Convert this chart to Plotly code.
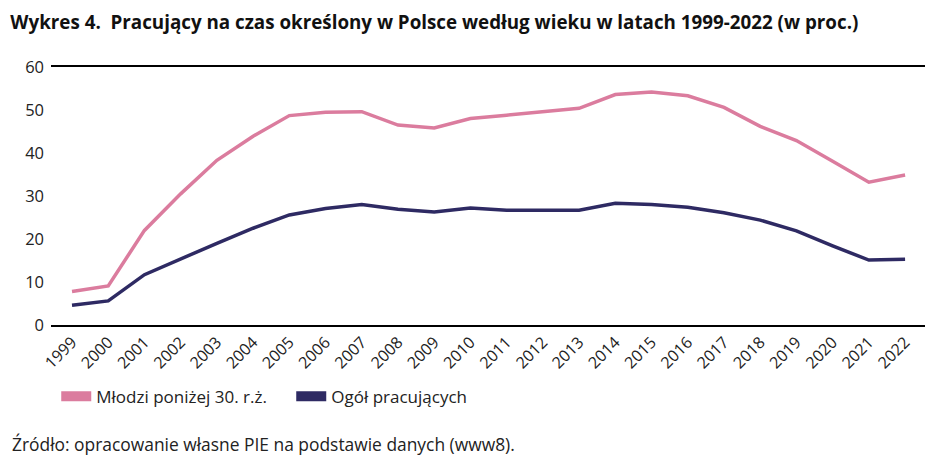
import plotly.graph_objects as go

years = list(range(1999, 2023))
mlodzi = [7.8, 9.1, 22.0, 30.5, 38.3, 43.9, 48.7, 49.5, 49.6, 46.5, 45.8, 48.0, 48.8, 49.6, 50.4,
          53.6, 54.2, 53.3, 50.6, 46.2, 42.9, 38.1, 33.2, 34.9]
ogol = [4.6, 5.6, 11.7, 15.4, 19.0, 22.5, 25.6, 27.1, 28.0, 26.9, 26.3, 27.2, 26.7, 26.7, 26.7,
        28.3, 28.0, 27.4, 26.1, 24.4, 21.9, 18.4, 15.1, 15.3]
names = ["Młodzi poniżej 30. r.ż.", "Ogół pracujących"]
colors = ["#DB7C9E", "#2E2A63"]

FONT = "Open Sans"
fig = go.Figure()
for vals, name, col in zip([mlodzi, ogol], names, colors):
    fig.add_trace(go.Scatter(x=years, y=vals, mode="lines", name=name,
                             line=dict(color=col, width=3.5), showlegend=False))
    fig.add_trace(go.Scatter(x=[None], y=[None], mode="lines", name=name,
                             line=dict(color=col, width=10), showlegend=True))

fig.update_layout(
    width=939, height=460,
    margin=dict(l=51, r=14, t=67, b=135),
    paper_bgcolor="white", plot_bgcolor="white",
    font=dict(family=FONT, color="#222222", size=16),
    title=dict(text="<b>Wykres 4.  Pracujący na czas określony w Polsce według wieku w latach 1999-2022 (w proc.)</b>",
               x=0.011, xanchor="left", y=0.952, yanchor="middle",
               font=dict(family=FONT, size=18.8, color="#111111")),
    legend=dict(orientation="h", x=0.006, xanchor="left", y=-0.208, yanchor="top",
                font=dict(family=FONT, size=17, color="#222222"),
                entrywidth=190, itemwidth=30, traceorder="normal"),
    xaxis=dict(range=[1998.42, 2022.55], tickmode="array", tickvals=years,
               ticktext=[str(y) for y in years], tickangle=-45,
               showgrid=False, showline=True, linecolor="black", linewidth=1.5,
               mirror=True, ticks="", zeroline=False,
               tickfont=dict(family=FONT, size=16, color="#222222")),
    yaxis=dict(range=[0, 60], tickvals=[0, 10, 20, 30, 40, 50, 60], showgrid=False,
               showline=False, zeroline=False, ticks="", ticklabelstandoff=6,
               tickfont=dict(family=FONT, size=16.5, color="#222222")),
    annotations=[dict(text="Źródło: opracowanie własne PIE na podstawie danych (www8).",
                      xref="paper", yref="paper", x=-0.047, xanchor="left",
                      y=-0.463, yanchor="middle", showarrow=False,
                      font=dict(family=FONT, size=17.4, color="#222222"))],
)
fig.write_html("out.html")
